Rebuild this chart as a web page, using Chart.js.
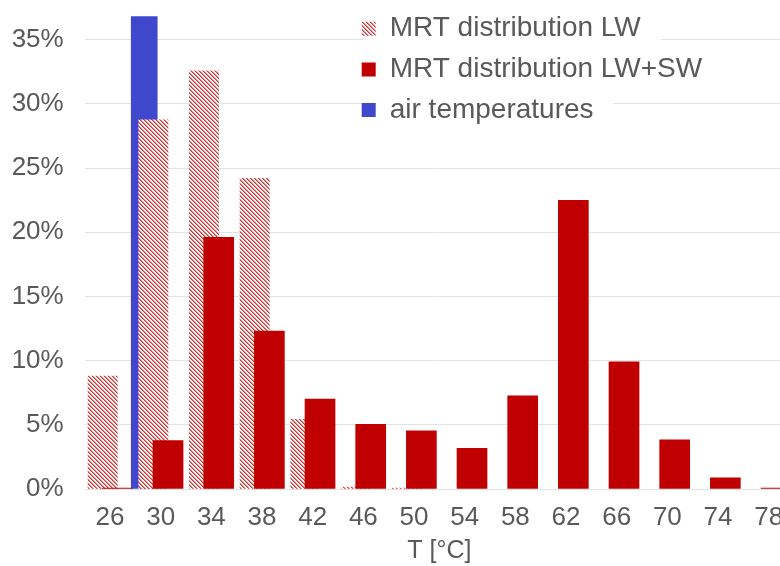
<!DOCTYPE html>
<html>
<head>
<meta charset="utf-8">
<script src="https://cdn.jsdelivr.net/npm/chart.js@4"></script>
<style>
  html, body { margin: 0; padding: 0; background: #ffffff; }
  #wrap { position: absolute; left: 0; top: 0; width: 780px; height: 566px; overflow: hidden; background: #ffffff; }
  canvas { display: block; }
</style>
</head>
<body>
<div id="wrap"><canvas id="c" width="800" height="566"></canvas></div>
<script>
// ---- data ----
const categories = ['26', '30', '34', '38', '42', '46', '50', '54', '58', '62', '66', '70', '74', '78'];
const mrtLW = [8.8, 28.76, 32.58, 24.2, 5.43, 0.15, 0.08, 0, 0, 0, 0, 0, 0, 0];
const mrtLWSW = [0.08, 3.77, 19.6, 12.3, 7.0, 5.04, 4.54, 3.17, 7.25, 22.5, 9.9, 3.84, 0.88, 0.08];
const airT = [28.7];
const airShare = [36.8];
const seriesLabels = ['MRT distribution LW', 'MRT distribution LW+SW', 'air temperatures'];
const axisTitle = 'T [°C]';

// bin width of the categories (°C) and the overlapping-bar shift inside a bin
const BIN = 4;
const SHIFT = 0.58;

// ---- hatch pattern ----
function makeHatch() {
  const p = document.createElement('canvas');
  p.width = 4; p.height = 4;
  const g = p.getContext('2d');
  const cols = ['#D03434', '#E98585', '#FCEDED', '#FFFFFF'];
  for (let y = 0; y < 4; y++) {
    for (let x = 0; x < 4; x++) {
      const k = ((x - y) % 4 + 4) % 4;
      g.fillStyle = cols[k];
      g.fillRect(x, y, 1, 1);
    }
  }
  return document.getElementById('c').getContext('2d').createPattern(p, 'repeat');
}
const hatch = makeHatch();

const TEXT = '#595959';
const FONT = "'Liberation Sans', Arial, sans-serif";

// place legend inside plot and give each entry a white backing
const legendPlacer = {
  id: 'legendPlacer',
  afterLayout(chart) {
    const lg = chart.legend;
    if (!lg) return;
    lg.left = 349; lg.top = 2;
    lg.right = lg.left + lg.width; lg.bottom = 470;
    if (!lg._patched) {
      const orig = lg.draw;
      lg.draw = function () {
        const ctx = this.ctx;
        ctx.save();
        ctx.fillStyle = '#ffffff';
        (this.legendHitBoxes || []).forEach(hb => {
          ctx.fillRect(hb.left + 2, hb.top + hb.height / 2 - 20.3, hb.width + 18, 40.6);
        });
        ctx.restore();
        orig.apply(this, arguments);
      };
      lg._patched = true;
    }
  }
};

const tMin = +categories[0] - BIN / 2;
const tMax = +categories[categories.length - 1] + BIN / 2;
const nz = (v) => (v === 0 ? null : v);

new Chart(document.getElementById('c'), {
  type: 'bar',
  data: {
    labels: categories,
    datasets: [
      {
        label: seriesLabels[0],
        data: categories.map((c, i) => ({ x: +c - SHIFT, y: nz(mrtLW[i]) })),
        backgroundColor: hatch,
        borderWidth: 0,
        order: 1,
        xAxisID: 'xT',
        grouped: false,
        barThickness: 29.3,
        maxBarThickness: 29.3
      },
      {
        label: seriesLabels[1],
        data: categories.map((c, i) => ({ x: +c + SHIFT, y: nz(mrtLWSW[i]) })),
        backgroundColor: '#C00000',
        borderWidth: 0,
        order: 0,
        xAxisID: 'xT',
        grouped: false,
        barThickness: 30,
        maxBarThickness: 30
      },
      {
        label: seriesLabels[2],
        data: airT.map((t, i) => ({ x: t, y: airShare[i] })),
        backgroundColor: '#3F47CC',
        borderWidth: 0,
        order: 2,
        xAxisID: 'xT',
        grouped: false,
        barThickness: 26,
        maxBarThickness: 26
      }
    ]
  },
  options: {
    responsive: false,
    animation: false,
    devicePixelRatio: 1,
    layout: { padding: { left: 0, right: 6, top: 0, bottom: 0 } },
    plugins: {
      tooltip: { enabled: false },
      legend: {
        position: 'chartArea',
        align: 'start',
        labels: {
          color: TEXT,
          font: { family: FONT, size: 28 },
          boxWidth: 14,
          boxHeight: 14,
          padding: 12.7,
          sort: (a, b) => a.datasetIndex - b.datasetIndex
        }
      }
    },
    scales: {
      x: {
        type: 'category',
        offset: true,
        grid: { display: false, drawTicks: false },
        border: { display: false },
        ticks: {
          color: TEXT,
          font: { family: FONT, size: 26 },
          padding: 13,
          maxRotation: 0,
          autoSkip: false
        },
        title: {
          display: true,
          text: axisTitle,
          color: TEXT,
          font: { family: FONT, size: 25 },
          padding: { top: 0, bottom: 0 }
        },
        afterFit: (s) => { s.height = 77; s.paddingLeft = 0; s.paddingRight = 0; }
      },
      xT: {
        type: 'linear',
        display: false,
        min: tMin,
        max: tMax,
        offset: false
      },
      y: {
        min: 0,
        max: 38.1,
        stacked: false,
        grid: { color: '#E3E3E3', lineWidth: 1, drawTicks: false },
        border: { display: false },
        ticks: {
          stepSize: 5,
          includeBounds: false,
          color: TEXT,
          font: { family: FONT, size: 26 },
          padding: 21,
          callback: (v) => v + '%'
        },
        afterFit: (s) => { s.width = 84.7; s.paddingTop = 0; s.paddingBottom = 0; }
      }
    }
  },
  plugins: [legendPlacer]
});
</script>
</body>
</html>
